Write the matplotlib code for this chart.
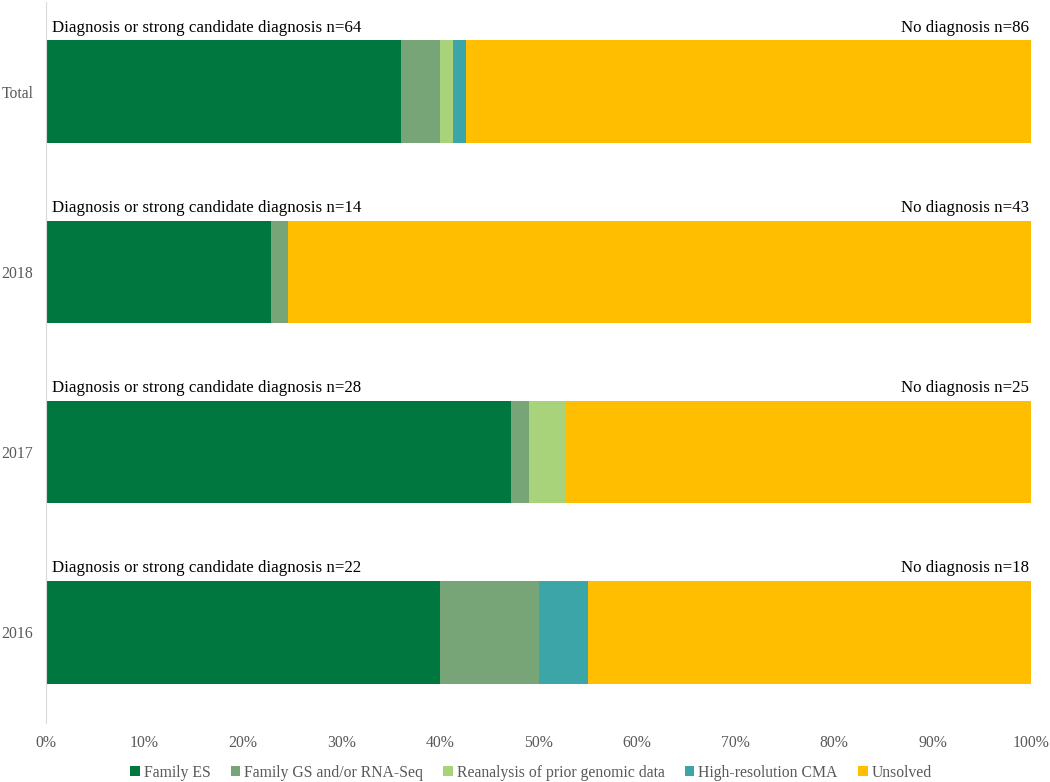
import matplotlib
matplotlib.use("Agg")
import matplotlib.pyplot as plt
import numpy as np

categories = ["Total", "2018", "2017", "2016"]
series = ["Family ES", "Family GS and/or RNA-Seq", "Reanalysis of prior genomic data",
          "High-resolution CMA", "Unsolved"]
colors = ["#00773F", "#77A577", "#A9D37B", "#3BA5A8", "#FFBF00"]
# counts per category
family_es = [54, 13, 25, 16]
family_gs = [6, 1, 1, 4]
reanalysis = [2, 0, 2, 0]
cma = [2, 0, 0, 2]
unsolved = [86, 43, 25, 18]
diag_n = [64, 14, 28, 22]
nodiag_n = [86, 43, 25, 18]

plt.rcParams['font.family'] = ['Liberation Serif', 'DejaVu Serif']

data = np.array([family_es, family_gs, reanalysis, cma, unsolved], dtype=float)
totals = data.sum(axis=0)
pct = data / totals * 100

fig = plt.figure(figsize=(10.5, 7.82), dpi=100)
ax = fig.add_axes([46/1050, 1 - 722.5/782, (1031-46)/1050, 721/782])

y = np.arange(len(categories))
left = np.zeros(len(categories))
for i, s in enumerate(series):
    ax.barh(y, pct[i], left=left, height=0.57, color=colors[i], label=s, linewidth=0)
    left += pct[i]

for j in range(len(categories)):
    ax.text(0.6, y[j] - 0.31, f"Diagnosis or strong candidate diagnosis n={diag_n[j]}",
            ha="left", va="bottom", fontsize=12.2, color="black")
    ax.text(99.8, y[j] - 0.31, f"No diagnosis n={nodiag_n[j]}",
            ha="right", va="bottom", fontsize=12.2, color="black")

ax.set_xlim(0, 100)
ax.set_ylim(3.5, -0.5)
ax.set_yticks(y)
ax.set_yticklabels(categories)
ax.set_xticks(np.arange(0, 101, 10))
ax.set_xticklabels([f"{v}%" for v in range(0, 101, 10)])
for side in ["top", "right", "bottom"]:
    ax.spines[side].set_visible(False)
ax.spines["left"].set_color("#D9D9D9")
ax.tick_params(axis="both", length=0, labelsize=11.3, colors="#595959")
ax.tick_params(axis="x", pad=9)
ax.tick_params(axis="y", pad=9)

handles, labels = ax.get_legend_handles_labels()
fig.legend(handles, labels, loc="center", bbox_to_anchor=(531/1050, 1 - 773/782),
           ncol=5, frameon=False, fontsize=11.3, handlelength=0.6, handleheight=0.6,
           handletextpad=0.25, columnspacing=1.3, labelcolor="#595959")

fig.savefig("out.png", dpi=100)
